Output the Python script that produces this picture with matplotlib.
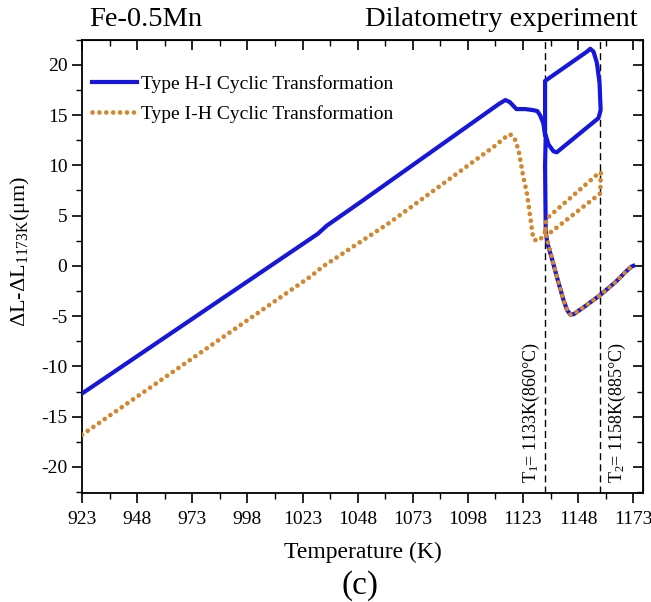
import matplotlib.pyplot as plt
import numpy as np

plt.rcParams['font.family'] = ['Liberation Serif', 'DejaVu Serif']
plt.rcParams['mathtext.fontset'] = 'custom'
plt.rcParams['mathtext.rm'] = 'Liberation Serif'
plt.rcParams['mathtext.it'] = 'Liberation Serif'
plt.rcParams['axes.unicode_minus'] = False

# Type H-I cyclic transformation (blue, solid)
hi_T = [923, 1030, 1034, 1049, 1112, 1115, 1117, 1120, 1124, 1127.5, 1129.5, 1130.7, 1132.2,
        1133, 1133, 1151.9, 1153.5, 1155, 1156.5, 1157.7, 1158.2, 1157.2, 1138.3, 1136.8,
        1134.5, 1133.3, 1133, 1133.3, 1134, 1136, 1139, 1141.5, 1143, 1144.5, 1146, 1150,
        1158, 1165, 1170, 1172, 1173]
hi_dL = [-12.7, 3.2, 4.0, 6.3, 16.1, 16.5, 16.3, 15.6, 15.6, 15.5, 15.4, 15.0, 14.2,
         13.0, 18.4, 21.3, 21.6, 21.3, 20.2, 18.2, 15.5, 14.7, 11.3, 11.4,
         12.1, 13.0, 10.0, 3.4, 2.3, 0.8, -1.6, -3.5, -4.4, -4.85, -4.8, -4.2,
         -2.9, -1.6, -0.5, -0.1, 0.0]

# Type I-H cyclic transformation (orange, dotted)
ih_T = [923, 1027, 1032, 1062.5, 1110, 1115, 1117, 1119, 1121, 1123, 1124.7, 1126.2,
        1127.3, 1128, 1130, 1131.5, 1133, 1135.3, 1158, 1158.3, 1157.2, 1133.7, 1133.2,
        1133.5, 1136, 1139, 1141.5, 1143, 1144.5, 1146, 1150, 1158, 1165, 1170, 1172, 1173]
ih_dL = [-16.8, -1.0, -0.1, 4.3, 11.9, 12.8, 13.1, 12.8, 11.5, 9.0, 7.3, 5.0,
         3.2, 2.6, 2.5, 2.8, 3.4, 3.3, 7.2, 9.3, 9.2, 4.7, 4.0,
         3.0, 0.9, -1.6, -3.5, -4.4, -4.85, -4.8, -4.2, -2.9, -1.6, -0.5, -0.1, 0.0]

T1 = 1133
T2 = 1158
x_ticks = np.arange(923, 1174, 25)
y_ticks = np.arange(-20, 21, 5)

fig = plt.figure(figsize=(6.51, 6.02), dpi=100)
ax = fig.add_axes([0.126, 0.181, 0.862, 0.753])

ax.plot(hi_T, hi_dL, color='#1616dc', lw=3, solid_joinstyle='round',
        label='Type H-I Cyclic Transformation', zorder=3)
ax.plot(ih_T, ih_dL, color='#d4862c', lw=3.4, linestyle=(0, (0.01, 1.45)),
        dash_capstyle='round', label='Type I-H Cyclic Transformation', zorder=4)

ax.axvline(T1, color='black', lw=1, linestyle=(0, (5, 3)), zorder=2)
ax.axvline(T2, color='black', lw=1, linestyle=(0, (5, 3)), zorder=2)

ax.text(1126.6, -21.6, r'T$_1$= 1133K(860°C)', rotation=90, ha='center', va='bottom',
        fontsize=13)
ax.text(1165.6, -21.6, r'T$_2$= 1158K(885°C)', rotation=90, ha='center', va='bottom',
        fontsize=13)

ax.set_xlim(923, 1177.5)
ax.set_ylim(-22.6, 22.2)
ax.set_xticks(x_ticks)
ax.set_yticks(y_ticks)
ax.set_xticks(np.arange(923 + 12.5, 1177, 25), minor=True)
ax.set_yticks(np.arange(-22.5, 22.6, 2.5), minor=True)
ax.tick_params(which='major', direction='out', length=7, width=1.2, labelsize=14)
ax.tick_params(axis='x', which='major', pad=6)
ax.tick_params(which='minor', direction='out', length=4, width=1)

# top / right ticks point inward, no labels
top = ax.secondary_xaxis('top')
top.set_xticks(x_ticks)
top.set_xticks(np.arange(923 + 12.5, 1177, 25), minor=True)
top.tick_params(which='major', direction='in', length=7, width=1.2, labeltop=False)
top.tick_params(which='minor', direction='in', length=4, width=1)
right = ax.secondary_yaxis('right')
right.set_yticks(y_ticks)
right.set_yticks(np.arange(-22.5, 22.6, 2.5), minor=True)
right.tick_params(which='major', direction='in', length=7, width=1.2, labelright=False)
right.tick_params(which='minor', direction='in', length=4, width=1)

for s in ax.spines.values():
    s.set_linewidth(1.3)

ax.set_xlabel('Temperature (K)', fontsize=17, labelpad=10)
ax.set_ylabel(r'$\Delta$L-$\Delta$L$_{1173\mathrm{K}}$($\mu$m)', fontsize=16)
ax.yaxis.set_label_coords(-0.089, 0.534)

ax.legend(loc='upper left', bbox_to_anchor=(0.018, 0.922), frameon=False, fontsize=14,
          borderpad=0, handlelength=2.3, handletextpad=0.2, labelspacing=0.6,
          borderaxespad=0)

fig.text(0.137, 0.968, 'Fe-0.5Mn', fontsize=20.5, ha='left', va='center')
fig.text(0.979, 0.968, 'Dilatometry experiment', fontsize=20.5, ha='right', va='center')
fig.text(0.553, 0.028, '(c)', fontsize=24, ha='center', va='center')

fig.savefig('out.png', dpi=100)
